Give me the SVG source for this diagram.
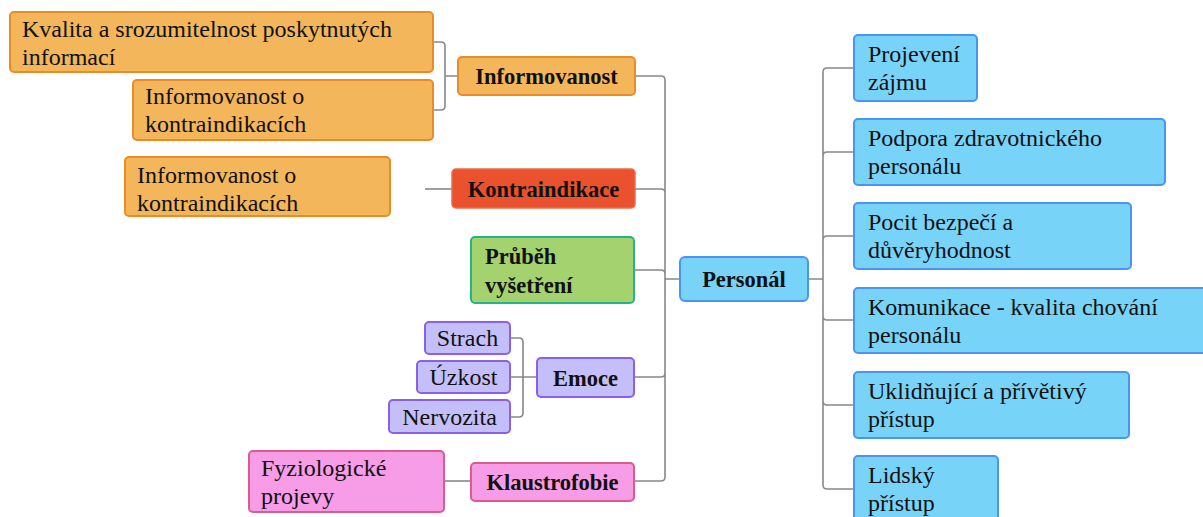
<svg xmlns="http://www.w3.org/2000/svg" width="1203" height="517" viewBox="0 0 1203 517">
<style>
text{font-family:'Liberation Serif','DejaVu Serif',serif;fill:#111}
.r{font-size:24px}
.b{font-size:22.5px;font-weight:bold}
.c{text-anchor:middle}
.or{fill:#F4B65A;stroke:#EC8B25;stroke-width:2}
.red{fill:#E9512F;stroke:#EE6A4A;stroke-width:1.5}
.gr{fill:#A3D26E;stroke:#25B488;stroke-width:2}
.pu{fill:#C4BFFA;stroke:#8A60E8;stroke-width:2}
.pk{fill:#F79CE6;stroke:#DE5A8A;stroke-width:2}
.bl{fill:#78D3F8;stroke:#4B95F2;stroke-width:2}
.ln{fill:none;stroke:#888;stroke-width:1.6}
</style>
<g id="connectors" class="ln">
<path d="M458 76H445M445 76V46Q445 42 441 42H433M445 76V106Q445 110 441 110H433"/>
<path d="M452 189H425"/>
<path d="M537 377H510M523 377V342Q523 338 519 338H510M523 377V413Q523 417 519 417H510"/>
<path d="M471 481H444"/>
<path d="M680 279H665M665 279V80Q665 76 661 76H635M665 279V193Q665 189 661 189H635M665 279V274Q665 270 661 270H634M665 279V373Q665 377 661 377H634M665 279V477Q665 481 661 481H634"/>
<path d="M808 279H823M823 279V72Q823 68 827 68H854M823 279V156Q823 152 827 152H854M823 279V240Q823 236 827 236H854M823 279V316Q823 320 827 320H854M823 279V401Q823 405 827 405H854M823 279V485Q823 489 827 489H854"/>
</g>
<g id="kvalita"><rect class="or" x="10" y="12" width="423" height="60" rx="4"/><text class="r" x="22" y="37">Kvalita a srozumitelnost poskytnutých</text><text class="r" x="22" y="65">informací</text></g>
<g id="inf-kontra1"><rect class="or" x="133" y="80" width="300" height="60" rx="4"/><text class="r" x="145" y="104">Informovanost o</text><text class="r" x="145" y="132">kontraindikacích</text></g>
<g id="informovanost"><rect class="or" x="458" y="57" width="177" height="38" rx="4"/><text class="b c" x="546.5" y="84">Informovanost</text></g>
<g id="inf-kontra2"><rect class="or" x="125" y="157" width="265" height="59" rx="4"/><text class="r" x="137" y="183">Informovanost o</text><text class="r" x="137" y="211">kontraindikacích</text></g>
<g id="kontraindikace"><rect class="red" x="452" y="169" width="183" height="39" rx="4"/><text class="b c" x="543.5" y="197">Kontraindikace</text></g>
<g id="prubeh"><rect class="gr" x="471" y="237" width="163" height="66" rx="4"/><text class="b" x="485" y="264">Průběh</text><text class="b" x="485" y="293">vyšetření</text></g>
<g id="strach"><rect class="pu" x="425" y="322" width="85" height="32" rx="4"/><text class="r c" x="467.5" y="346">Strach</text></g>
<g id="uzkost"><rect class="pu" x="417" y="361" width="93" height="32" rx="4"/><text class="r c" x="463.5" y="385">Úzkost</text></g>
<g id="nervozita"><rect class="pu" x="389" y="400" width="121" height="33" rx="4"/><text class="r c" x="449.5" y="425">Nervozita</text></g>
<g id="emoce"><rect class="pu" x="537" y="358" width="97" height="39" rx="4"/><text class="b c" x="585.5" y="386">Emoce</text></g>
<g id="fyziologicke"><rect class="pk" x="249" y="451" width="195" height="61" rx="4"/><text class="r" x="261" y="476">Fyziologické</text><text class="r" x="261" y="504">projevy</text></g>
<g id="klaustrofobie"><rect class="pk" x="471" y="463" width="163" height="38" rx="4"/><text class="b c" x="552.5" y="490">Klaustrofobie</text></g>
<g id="personal"><rect class="bl" x="680" y="257" width="128" height="44" rx="5"/><text class="b c" x="744" y="287">Personál</text></g>
<g id="projeveni"><rect class="bl" x="854" y="35" width="123" height="66" rx="4"/><text class="r" x="868" y="62">Projevení</text><text class="r" x="868" y="90">zájmu</text></g>
<g id="podpora"><rect class="bl" x="854" y="119" width="311" height="66" rx="4"/><text class="r" x="868" y="146">Podpora zdravotnického</text><text class="r" x="868" y="174">personálu</text></g>
<g id="pocit"><rect class="bl" x="854" y="203" width="277" height="66" rx="4"/><text class="r" x="868" y="230">Pocit bezpečí a</text><text class="r" x="868" y="258">důvěryhodnost</text></g>
<g id="komunikace"><rect class="bl" x="854" y="288" width="360" height="65" rx="4"/><text class="r" x="868" y="315">Komunikace - kvalita chování</text><text class="r" x="868" y="343">personálu</text></g>
<g id="uklidnujici"><rect class="bl" x="854" y="372" width="275" height="66" rx="4"/><text class="r" x="868" y="399">Uklidňující a přívětivý</text><text class="r" x="868" y="427">přístup</text></g>
<g id="lidsky"><rect class="bl" x="854" y="456" width="144" height="70" rx="4"/><text class="r" x="868" y="483">Lidský</text><text class="r" x="868" y="511">přístup</text></g>
</svg>
